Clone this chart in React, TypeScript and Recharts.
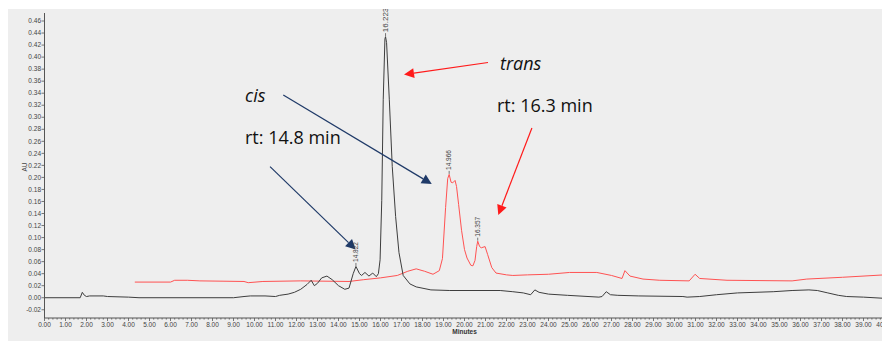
import React from "react";
import { LineChart, Line, XAxis, YAxis, ReferenceLine, ReferenceDot } from "recharts";

// black trace (retention time in minutes, absorbance in AU)
const blackT = [
  0, 1.7, 1.8, 1.9, 2.0, 2.15, 2.8, 3.0, 4.0, 4.5, 9.0, 9.5, 9.8, 10.5, 11.0, 11.2, 11.6, 11.9,
  12.2, 12.5, 12.7, 12.85, 13.0, 13.2, 13.45, 13.7, 14.0, 14.3, 14.5, 14.7, 14.83, 15.0, 15.1,
  15.26, 15.45, 15.63, 15.8, 15.9, 15.98, 16.06, 16.13, 16.21, 16.24, 16.29, 16.42, 16.56, 16.72,
  16.88, 17.08, 17.4, 17.7, 18.4, 19.3, 20.5, 21.7, 22.3, 22.8, 23.15, 23.35, 23.55, 24.0, 24.9,
  26.4, 26.55, 26.75, 26.95, 27.3, 28.3, 30.4, 30.6, 31.2, 32.0, 33.0, 34.7, 35.6, 36.4, 36.8,
  37.3, 37.8, 38.2, 39.0, 40.0,
];
const blackAU = [
  0, 0, 0.009, 0.004, 0.002, 0.003, 0.003, 0.002, 0.001, 0, 0, 0.002, 0.003, 0.003, 0.002, 0.004,
  0.006, 0.009, 0.014, 0.022, 0.029, 0.02, 0.024, 0.033, 0.036, 0.03, 0.02, 0.014, 0.016, 0.04,
  0.052, 0.04, 0.037, 0.042, 0.036, 0.041, 0.035, 0.04, 0.063, 0.162, 0.329, 0.43, 0.434, 0.424,
  0.329, 0.218, 0.135, 0.075, 0.037, 0.023, 0.018, 0.013, 0.012, 0.012, 0.012, 0.01, 0.008, 0.005,
  0.013, 0.009, 0.006, 0.004, 0.001, 0.002, 0.01, 0.005, 0.004, 0.003, 0.002, 0.001, 0.002, 0.005,
  0.008, 0.01, 0.012, 0.013, 0.012, 0.008, 0.004, 0.002, 0.001, -0.001,
];

// red trace (offset overlay)
const redT = [
  4.3, 6.0, 6.2, 6.8, 7.4, 9.5, 9.7, 10.4, 12.2, 14.5, 15.2, 16.0, 16.8, 17.3, 17.7, 18.1, 18.5,
  18.8, 18.95, 19.1, 19.2, 19.27, 19.36, 19.44, 19.55, 19.62, 19.72, 19.86, 20.0, 20.12, 20.3,
  20.4, 20.5, 20.58, 20.63, 20.72, 20.8, 20.98, 21.1, 21.3, 21.5, 22.0, 22.3, 23.0, 24.0, 25.0,
  26.3, 27.0, 27.5, 27.64, 27.88, 28.5, 29.3, 30.7, 30.98, 31.2, 32.5, 35.6, 36.3, 38.0, 40.0,
];
const redAU = [
  0.026, 0.026, 0.029, 0.029, 0.028, 0.027, 0.025, 0.027, 0.028, 0.027, 0.03, 0.033, 0.037, 0.044,
  0.048, 0.044, 0.039, 0.045, 0.065, 0.15, 0.198, 0.205, 0.192, 0.191, 0.195, 0.185, 0.155, 0.112,
  0.08, 0.066, 0.054, 0.053, 0.062, 0.085, 0.094, 0.085, 0.083, 0.085, 0.072, 0.05, 0.041, 0.038,
  0.037, 0.038, 0.039, 0.042, 0.042, 0.037, 0.032, 0.045, 0.036, 0.031, 0.029, 0.028, 0.039,
  0.032, 0.029, 0.028, 0.031, 0.034, 0.038,
];

// peak apex labels
const peakText = ["14.822", "16.223", "14.966", "16.357"];
const peakT = [14.83, 16.24, 19.27, 20.63];
const peakAU = [0.052, 0.434, 0.205, 0.094];
const peakFont = [6.5, 8, 6.5, 6.5];

// annotation arrows: start -> tip
const arrowFrom = [
  { x: 10.74, y: 0.218 },
  { x: 11.37, y: 0.337 },
  { x: 21.12, y: 0.391 },
  { x: 23.21, y: 0.282 },
];
const arrowTo = [
  { x: 14.82, y: 0.08 },
  { x: 18.44, y: 0.189 },
  { x: 17.12, y: 0.371 },
  { x: 21.61, y: 0.1375 },
];
const arrowColor = ["#1f3a68", "#1f3a68", "#ff1a1a", "#ff1a1a"];

const xTicks = Array.from({ length: 201 }, (_, i) => +(i * 0.2).toFixed(1));
const yTicks = Array.from({ length: 25 }, (_, i) => +(-0.02 + i * 0.02).toFixed(2));

const blackData = blackT.map((t, i) => ({ t, au: blackAU[i] }));
const redData = redT.map((t, i) => ({ t, au: redAU[i] }));

const tickFont = "'Liberation Sans', Arial, sans-serif";
const noteFont = "'Open Sans', 'Noto Sans', sans-serif";

function XTick(props: any) {
  const { x, y, payload } = props;
  const v = payload.value as number;
  const major = Math.abs(v - Math.round(v)) < 1e-6;
  return (
    <g>
      <line x1={x} y1={y} x2={x} y2={y + (major ? 3 : 1.6)} stroke="#555" strokeWidth={0.8} />
      {major && (
        <text x={x} y={y + 8.5} textAnchor="middle" fontSize={6.5} fontFamily={tickFont} fill="#444">
          {v.toFixed(2)}
        </text>
      )}
    </g>
  );
}

function YTick(props: any) {
  const { x, y, payload } = props;
  return (
    <g>
      <line x1={x - 3} y1={y} x2={x} y2={y} stroke="#555" strokeWidth={0.8} />
      <text x={x - 3.5} y={y + 2.2} textAnchor="end" fontSize={6.5} fontFamily={tickFont} fill="#444">
        {(payload.value as number).toFixed(2)}
      </text>
    </g>
  );
}

function arrowShape(color: string) {
  return (p: any) => {
    const { x1, y1, x2, y2 } = p;
    const dx = x2 - x1;
    const dy = y2 - y1;
    const len = Math.hypot(dx, dy) || 1;
    const ux = dx / len;
    const uy = dy / len;
    const head = 10;
    const half = 5;
    const bx = x2 - ux * head;
    const by = y2 - uy * head;
    return (
      <g>
        <line x1={x1} y1={y1} x2={bx} y2={by} stroke={color} strokeWidth={1.2} />
        <polygon
          points={`${x2},${y2} ${bx - uy * half},${by + ux * half} ${bx + uy * half},${by - ux * half}`}
          fill={color}
        />
      </g>
    );
  };
}

function peakShape(text: string, size: number) {
  return (p: any) => {
    const { cx, cy } = p;
    const tx = cx + size * 0.36;
    const ty = cy - 4.5;
    return (
      <g>
        <line x1={cx} y1={cy - 0.5} x2={cx} y2={cy - 3.5} stroke="#555" strokeWidth={0.8} />
        <text
          x={tx}
          y={ty}
          transform={`rotate(-90 ${tx} ${ty})`}
          fontSize={size}
          fontFamily={tickFont}
          fill="#444"
        >
          {text}
        </text>
      </g>
    );
  };
}

export default function App() {
  return (
    <div style={{ position: "relative", width: 882, height: 341, background: "#fff", overflow: "hidden" }}>
      <style>{"body{margin:0;overflow:hidden}"}</style>
      <div style={{ position: "absolute", left: 8, top: 9, width: 874, height: 332, background: "#eeeeee", overflow: "hidden" }}>
        <LineChart width={890} height={332} margin={{ top: 4, right: 13.5, bottom: 0, left: 0 }}>
          <XAxis
            xAxisId="top"
            orientation="top"
            type="number"
            domain={[0, 40]}
            height={0}
            tick={false}
            tickLine={false}
            axisLine={{ stroke: "#888", strokeWidth: 1.5 }}
          />
          <XAxis
            dataKey="t"
            type="number"
            domain={[0, 40]}
            ticks={xTicks}
            interval={0}
            height={23}
            tickSize={0}
            tickMargin={0}
            tickLine={false}
            tick={<XTick />}
            axisLine={{ stroke: "#555" }}
            allowDataOverflow
            label={{ value: "Minutes", position: "insideBottom", offset: 7, fontSize: 6.5, fontWeight: 600, fill: "#333", fontFamily: tickFont }}
          />
          <YAxis
            type="number"
            domain={[-0.0337, 0.4733]}
            ticks={yTicks}
            interval={0}
            width={36.5}
            tickSize={0}
            tickMargin={0}
            tickLine={false}
            tick={<YTick />}
            axisLine={{ stroke: "#555" }}
            allowDataOverflow
          />
          <Line
            data={redData}
            dataKey="au"
            type="linear"
            stroke="#ff5252"
            strokeWidth={1}
            dot={false}
            activeDot={false}
            isAnimationActive={false}
          />
          <Line
            data={blackData}
            dataKey="au"
            type="linear"
            stroke="#3d3d3d"
            strokeWidth={1}
            dot={false}
            activeDot={false}
            isAnimationActive={false}
          />
          {arrowFrom.map((a, i) => (
            <ReferenceLine
              key={i}
              segment={[a, arrowTo[i]]}
              ifOverflow="visible"
              shape={arrowShape(arrowColor[i])}
            />
          ))}
          {peakText.map((txt, i) => (
            <ReferenceDot
              key={txt}
              x={peakT[i]}
              y={peakAU[i]}
              r={0}
              ifOverflow="visible"
              shape={peakShape(txt, peakFont[i])}
            />
          ))}
        </LineChart>
      </div>
      <svg
        width={882}
        height={341}
        style={{ position: "absolute", left: 0, top: 0, pointerEvents: "none" }}
      >
        <text x={27} y={167} transform="rotate(-90 27 167)" textAnchor="middle" fontSize={6.5} fontFamily={tickFont} fill="#444">
          AU
        </text>
        <text x={245} y={102} fontSize={18} fontStyle="italic" fontFamily={noteFont} fill="#111">
          cis
        </text>
        <text x={245} y={143.5} fontSize={18} fontFamily={noteFont} fill="#111">
          rt: 14.8 min
        </text>
        <text x={500} y={70} fontSize={18} fontStyle="italic" fontFamily={noteFont} fill="#111">
          trans
        </text>
        <text x={497} y={111.5} fontSize={18} fontFamily={noteFont} fill="#111">
          rt: 16.3 min
        </text>
      </svg>
    </div>
  );
}
